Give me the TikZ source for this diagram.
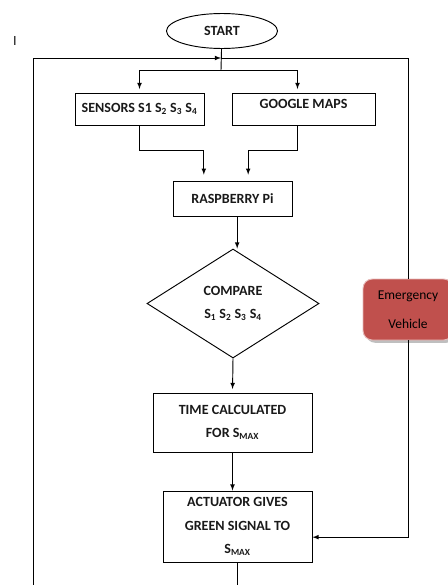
\documentclass[tikz,border=0pt]{standalone}
\usepackage{fontspec}
\setmainfont{Carlito}
\usetikzlibrary{shapes.geometric,shadows}
\definecolor{evred}{HTML}{C0504D}

\begin{document}
\begin{tikzpicture}[x=0.03cm,y=-0.03cm,>=latex,line width=0.8pt]
\tikzstyle{every node}=[font=\fontsize{12}{20}\selectfont\bfseries,text=black!90]
\tikzstyle{box}=[draw,rectangle,inner sep=0,align=center]
\useasboundingbox (0,0) rectangle (448,585);
\node (start) at (222,31) [draw,ellipse,minimum width=3.33cm,minimum height=1.05cm] {START};
\node (mark) at (15,41) [font=\fontsize{12}{20}\selectfont] {I};
\coordinate (loop) at (221,58);
\coordinate (split) at (221,70);
\coordinate (back) at (33,585);
\node (sensors) at (139.5,109) [box,minimum width=3.87cm,minimum height=0.96cm] {SENSORS S1 S\textsubscript{2} S\textsubscript{3} S\textsubscript{4}};
\node (google) at (303.5,109) [box,minimum width=4.29cm,minimum height=0.96cm,text depth=0.3cm] {GOOGLE MAPS};
\node (rasp) at (232.5,198.5) [box,minimum width=3.57cm,minimum height=1.05cm] {RASPBERRY Pi};
\node (compare) at (233,303.5) [draw,diamond,inner sep=0,minimum width=5.16cm,minimum height=3.27cm,align=center] {COMPARE\\S\textsubscript{1} S\textsubscript{2} S\textsubscript{3} S\textsubscript{4}};
\node (time) at (232.5,422.5) [box,minimum width=4.77cm,minimum height=1.77cm] {TIME CALCULATED\\FOR S\textsubscript{MAX}};
\node (act) at (237.5,526.5) [box,minimum width=4.47cm,minimum height=2.13cm] {ACTUATOR GIVES\\GREEN SIGNAL TO\\S\textsubscript{MAX}};
\node (emerg) at (408,309.5) [rounded corners=8pt,fill=evred,draw=evred!40,drop shadow,minimum width=2.7cm,minimum height=1.83cm,align=center,font=\fontsize{11.5}{25}\selectfont,text=black] {Emergency\\Vehicle};
\draw (start) -- (split);
\draw [->,shorten >=3pt] (split) -| (sensors.north);
\draw [->,shorten >=3pt] (split) -| ([xshift=-0.18cm]google.north);
\draw [->,shorten >=5pt] (sensors.south) -- ++(0,25) -| ([xshift=-0.86cm]rasp.north);
\draw [->,shorten >=5pt] ([xshift=-0.18cm]google.south) -- ++(0,25) -| ([xshift=0.47cm]rasp.north);
\draw [->] ([xshift=0.14cm]rasp.south) -- ([xshift=0.14cm]rasp.south |- compare.north);
\draw [->,shorten >=3pt] (compare.south) -- (time.north);
\draw [->] (time.south) -- (time.south |- act.north);
\draw (act.south) -- (act.south |- back);
\draw [->] (back) |- (loop);
\draw (loop) -- (emerg.north |- loop) -- (emerg.north);
\draw [->] (emerg.south) |- ([yshift=-0.32cm]act.east);
\end{tikzpicture}
\end{document}
